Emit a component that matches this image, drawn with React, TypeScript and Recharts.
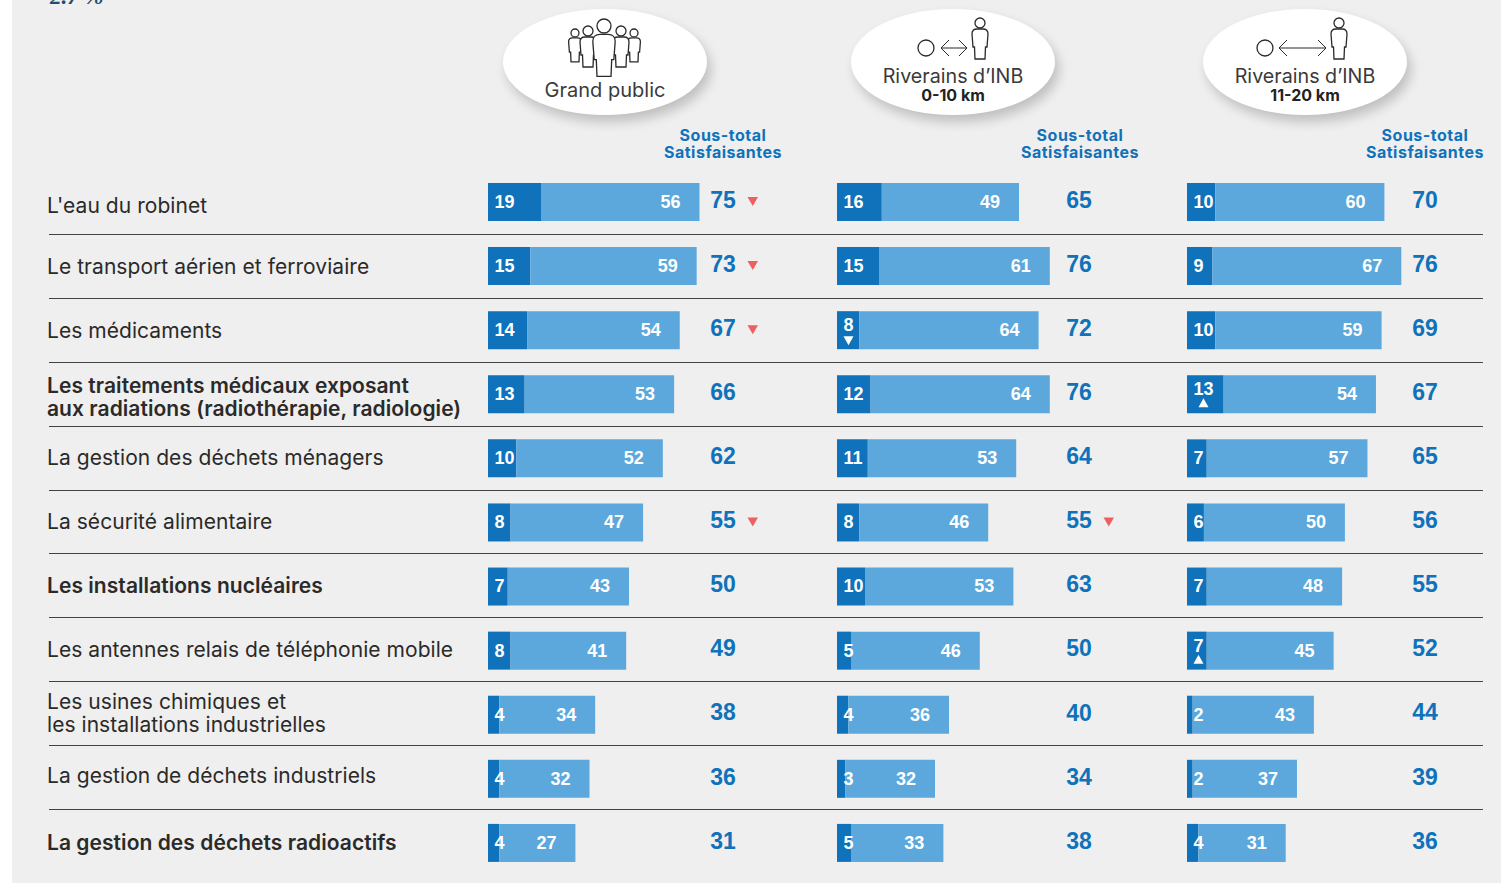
import React from "react";
import { BarChart, Bar, XAxis, YAxis, LabelList } from "recharts";

const categories = [
  ["L'eau du robinet"],
  ["Le transport aérien et ferroviaire"],
  ["Les médicaments"],
  ["Les traitements médicaux exposant", "aux radiations (radiothérapie, radiologie)"],
  ["La gestion des déchets ménagers"],
  ["La sécurité alimentaire"],
  ["Les installations nucléaires"],
  ["Les antennes relais de téléphonie mobile"],
  ["Les usines chimiques et", "les installations industrielles"],
  ["La gestion de déchets industriels"],
  ["La gestion des déchets radioactifs"],
];
const boldRows = [3, 6, 10];
const labelNudge = [3, 0, 0, 3, -1, -1, -1, -1, -2, -3, -1];

const publicDark = [19, 15, 14, 13, 10, 8, 7, 8, 4, 4, 4];
const publicLight = [56, 59, 54, 53, 52, 47, 43, 41, 34, 32, 27];
const publicTotal = [75, 73, 67, 66, 62, 55, 50, 49, 38, 36, 31];
const publicTotalDown = [0, 1, 2, 5];
const publicDarkDown: number[] = [];
const publicDarkUp: number[] = [];

const near10Dark = [16, 15, 8, 12, 11, 8, 10, 5, 4, 3, 5];
const near10Light = [49, 61, 64, 64, 53, 46, 53, 46, 36, 32, 33];
const near10Total = [65, 76, 72, 76, 64, 55, 63, 50, 40, 34, 38];
const near10TotalDown = [5];
const near10DarkDown = [2];
const near10DarkUp: number[] = [];

const near20Dark = [10, 9, 10, 13, 7, 6, 7, 7, 2, 2, 4];
const near20Light = [60, 67, 59, 54, 57, 50, 48, 45, 43, 37, 31];
const near20Total = [70, 76, 69, 67, 65, 56, 55, 52, 44, 39, 36];
const near20TotalDown: number[] = [];
const near20DarkDown: number[] = [];
const near20DarkUp = [3, 7];

const DARK = "#0F72BA";
const LIGHT = "#5CA8DD";
const BG = "#EFEFEF";
const INK = "#2B2A29";
const RED = "#EE5F5F";
const SANS = "Inter, 'Noto Sans', sans-serif";
const NUM = "'Liberation Sans', Arial, sans-serif";

const PLOT_TOP = 170;
const PLOT_BOTTOM_GAP = 8;
const HEIGHT = 883;
const DOMAIN = 120;

function rect(props: any) {
  const v = props.viewBox ?? {};
  return {
    x: Number(props.x ?? v.x),
    y: Number(props.y ?? v.y),
    width: Number(props.width ?? v.width),
    height: Number(props.height ?? v.height),
  };
}

function DarkLabel({ down, up, ...props }: any) {
  const { x, y, height } = rect(props);
  const i = props.index as number;
  const isDown = down.includes(i);
  const isUp = up.includes(i);
  const cy = y + height / 2;
  const text = String(props.value);
  const tx = x + 6.5 + (text.length * 10) / 2;
  const marked = isDown || isUp;
  return (
    <g>
      <text x={x + 6.5} y={marked ? cy - 5 : cy} dy="0.33em" fill="#fff" fontFamily={NUM} fontWeight={700} fontSize={18}>
        {text}
      </text>
      {isDown && <polygon points={`${tx - 5},${cy + 6} ${tx + 5},${cy + 6} ${tx},${cy + 15}`} fill="#fff" />}
      {isUp && <polygon points={`${tx - 5},${cy + 13} ${tx + 5},${cy + 13} ${tx},${cy + 4}`} fill="#fff" />}
    </g>
  );
}

function LightLabel({ totals, totalX, trend, scale, ...props }: any) {
  const { x, y, width, height } = rect(props);
  const i = props.index as number;
  const cy = y + height / 2;
  const left = x - scale * props.dark[i];
  const col = left + totalX;
  return (
    <g>
      <text x={x + width - 19} y={cy} dy="0.33em" textAnchor="end" fill="#fff" fontFamily={NUM} fontWeight={700} fontSize={18}>
        {props.value}
      </text>
      <text x={col} y={cy - 2.5} dy="0.36em" textAnchor="middle" fill={DARK} fontFamily={NUM} fontWeight={700} fontSize={23}>
        {totals[i]}
      </text>
      {trend.includes(i) && (
        <polygon points={`${col + 24.5},${cy - 5} ${col + 35},${cy - 5} ${col + 29.8},${cy + 4}`} fill={RED} />
      )}
    </g>
  );
}

function RowTick(props: any) {
  const { y, payload } = props;
  const i = categories.findIndex((c) => c.join(" ") === payload.value);
  const lines = categories[i] ?? [payload.value];
  const yy = y + (labelNudge[i] ?? 0);
  const weight = boldRows.includes(i) ? 600 : 400;
  return (
    <text x={47} y={yy} fill={INK} fontFamily={SANS} fontSize={21} fontWeight={weight} letterSpacing={0.06}>
      {lines.map((l: string, k: number) => (
        <tspan key={k} x={47} y={yy + (k - (lines.length - 1) / 2) * 23} dy="0.36em">
          {l}
        </tspan>
      ))}
    </text>
  );
}

type PanelProps = {
  left: number;
  plotLeft: number;
  scale: number;
  totalX: number;
  dark: number[];
  light: number[];
  total: number[];
  totalDown: number[];
  darkDown: number[];
  darkUp: number[];
  withRows?: boolean;
};

function Panel({ left, plotLeft, scale, totalX, dark, light, total, totalDown, darkDown, darkUp, withRows }: PanelProps) {
  const data = categories.map((c, i) => ({ name: c.join(" "), dark: dark[i], light: light[i] }));
  const plotWidth = DOMAIN * scale;
  return (
    <div style={{ position: "absolute", left, top: 0 }}>
      <BarChart
        width={plotLeft + plotWidth}
        height={HEIGHT}
        data={data}
        layout="vertical"
        margin={{ top: PLOT_TOP, bottom: PLOT_BOTTOM_GAP, left: 0, right: 0 }}
        barSize={38}
      >
        <XAxis type="number" domain={[0, DOMAIN]} hide />
        {withRows ? (
          <YAxis type="category" dataKey="name" width={plotLeft} axisLine={false} tickLine={false} interval={0} tick={<RowTick />} />
        ) : (
          <YAxis type="category" dataKey="name" hide />
        )}
        <Bar dataKey="dark" stackId="s" fill={DARK} isAnimationActive={false}>
          <LabelList dataKey="dark" content={(p: any) => <DarkLabel {...p} down={darkDown} up={darkUp} />} />
        </Bar>
        <Bar dataKey="light" stackId="s" fill={LIGHT} isAnimationActive={false}>
          <LabelList
            dataKey="light"
            content={(p: any) => (
              <LightLabel {...p} dark={dark} scale={scale} totals={total} totalX={totalX} trend={totalDown} />
            )}
          />
        </Bar>
      </BarChart>
    </div>
  );
}

function Person({ cx, top, s }: { cx: number; top: number; s: number }) {
  return (
    <g transform={`translate(${cx} ${top}) scale(${s})`} fill="#fff" stroke="#2B2A29" strokeWidth={1.3 / s}>
      <circle cx={0} cy={5} r={5} />
      <path d="M-3,11 H3 C6,11 8,13 8,16 L7,29 H5.5 L5,41 H-5 L-5.5,29 H-7 L-8,16 C-8,13 -6,11 -3,11 Z" />
    </g>
  );
}

function Arrow({ x1, x2, y }: { x1: number; x2: number; y: number }) {
  return (
    <g fill="none" stroke="#2B2A29" strokeWidth={1}>
      <line x1={x1} x2={x2} y1={y} y2={y} />
      <polyline points={`${x1 + 8},${y - 8} ${x1},${y} ${x1 + 8},${y + 8}`} />
      <polyline points={`${x2 - 8},${y - 8} ${x2},${y} ${x2 - 8},${y + 8}`} />
    </g>
  );
}

const abs = (s: React.CSSProperties): React.CSSProperties => ({ position: "absolute", ...s });

function Ellipse({ cx }: { cx: number }) {
  return (
    <div
      style={abs({
        left: cx - 102,
        top: 9,
        width: 204,
        height: 106,
        borderRadius: "50%",
        background: "#fff",
        boxShadow: "4px 7px 12px rgba(0,0,0,0.2)",
      })}
    />
  );
}

function Centered({ cx, y, size, weight, color, text, spacing }: any) {
  return (
    <div
      style={abs({
        left: cx - 150,
        width: 300,
        top: y - 15,
        height: 30,
        lineHeight: "30px",
        textAlign: "center",
        fontFamily: SANS,
        fontSize: size,
        fontWeight: weight,
        color,
        letterSpacing: spacing ?? 0,
        whiteSpace: "nowrap",
      })}
    >
      {text}
    </div>
  );
}

const ruleCount = 10;
const ruleStart = 234;
const ruleStep = 63.89;
const headerCols = [723, 1080, 1425];

export default function App() {
  return (
    <div style={{ position: "fixed", left: 0, top: 0, width: 1501, height: 883, overflow: "hidden", background: "#fff" }}>
      <div style={abs({ left: 12, top: 0, right: 0, bottom: 0, background: BG })} />
      <div
        style={abs({
          left: 50,
          top: -16,
          fontFamily: "'Liberation Serif', serif",
          fontStyle: "italic",
          fontWeight: 700,
          fontSize: 23,
          lineHeight: "26px",
          color: "#1B4F78",
        })}
      >
        2.7 %
      </div>

      {Array.from({ length: ruleCount }, (_, i) => (
        <div
          key={i}
          style={abs({ left: 49, width: 1434, top: Math.round(ruleStart + ruleStep * i), height: 1, background: "#444" })}
        />
      ))}

      <Ellipse cx={605} />
      <Ellipse cx={953} />
      <Ellipse cx={1305} />

      <svg width={1501} height={120} style={abs({ left: 0, top: 0 })}>
        <Person cx={575} top={29} s={0.8} />
        <Person cx={634} top={29} s={0.8} />
        <Person cx={588} top={26} s={1} />
        <Person cx={621} top={26} s={1} />
        <Person cx={604} top={19} s={1.4} />
        <circle cx={926} cy={48} r={8} fill="none" stroke="#2B2A29" strokeWidth={1.3} />
        <Arrow x1={941} x2={967} y={48} />
        <Person cx={980} top={18} s={1} />
        <circle cx={1265} cy={48} r={8} fill="none" stroke="#2B2A29" strokeWidth={1.3} />
        <Arrow x1={1279} x2={1326} y={48} />
        <Person cx={1339} top={18} s={1} />
      </svg>

      <Centered cx={605} y={90} size={20} weight={400} color="#3a3a3a" text="Grand public" />
      <Centered cx={953} y={76} size={19.7} weight={400} color="#3a3a3a" text="Riverains d’INB" />
      <Centered cx={953} y={95} size={16} weight={700} color="#222" text="0-10 km" />
      <Centered cx={1305} y={76} size={19.7} weight={400} color="#3a3a3a" text="Riverains d’INB" />
      <Centered cx={1305} y={95} size={16} weight={700} color="#222" text="11-20 km" />
      {headerCols.map((cx) => (
        <React.Fragment key={cx}>
          <Centered cx={cx} y={135} size={16} weight={700} color={DARK} spacing={0.5} text="Sous-total" />
          <Centered cx={cx} y={152} size={16} weight={700} color={DARK} spacing={0.5} text="Satisfaisantes" />
        </React.Fragment>
      ))}

      <Panel left={0} plotLeft={488} scale={2.82} totalX={235} dark={publicDark} light={publicLight} total={publicTotal} totalDown={publicTotalDown} darkDown={publicDarkDown} darkUp={publicDarkUp} withRows />
      <Panel left={837} plotLeft={0} scale={2.8} totalX={242} dark={near10Dark} light={near10Light} total={near10Total} totalDown={near10TotalDown} darkDown={near10DarkDown} darkUp={near10DarkUp} />
      <Panel left={1187} plotLeft={0} scale={2.82} totalX={238} dark={near20Dark} light={near20Light} total={near20Total} totalDown={near20TotalDown} darkDown={near20DarkDown} darkUp={near20DarkUp} />
    </div>
  );
}
